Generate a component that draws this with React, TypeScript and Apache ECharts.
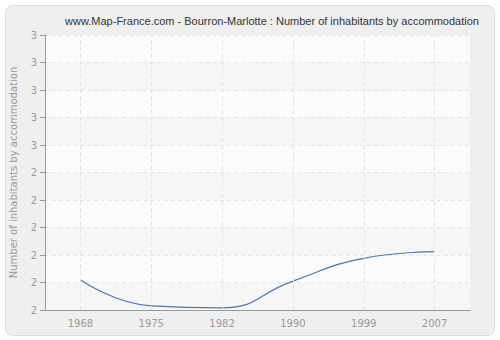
import React, { useEffect, useRef } from "react";
import * as echarts from "echarts";

const titleText = "www.Map-France.com - Bourron-Marlotte : Number of inhabitants by accommodation";
const yAxisName = "Number of inhabitants by accommodation";
const years = ["1968", "1975", "1982", "1990", "1999", "2007"];
const values = [2.11, 2.015, 2.008, 2.105, 2.188, 2.212];
const yTickLabels = ["2", "2", "2", "2", "2", "2", "3", "3", "3", "3", "3"];
const yMin = 2;
const yMax = 3;
const yStep = 0.1;

export default function App() {
  const ref = useRef<HTMLDivElement>(null);
  useEffect(() => {
    document.body.style.margin = "0";
    const chart = echarts.init(ref.current!, null, { renderer: "svg" });
    chart.setOption({
      animation: false,
      backgroundColor: "#ffffff",
      graphic: [
        {
          type: "rect",
          z: -10,
          silent: true,
          shape: { x: 5.5, y: 5.5, width: 489, height: 330, r: 7 },
          style: { fill: "#efefef", stroke: "#dddddd", lineWidth: 1 },
        },
      ],
      title: {
        text: titleText,
        left: 267,
        top: 10,
        textAlign: "center",
        textStyle: { fontFamily: "Liberation Sans", fontSize: 11, fontWeight: "normal", color: "#333333" },
      },
      grid: { left: 40, right: 30, top: 35, bottom: 30, show: true, backgroundColor: "#fafafa", borderWidth: 0 },
      xAxis: {
        type: "category",
        data: years,
        boundaryGap: true,
        axisLine: { lineStyle: { color: "#999999" } },
        axisTick: { alignWithLabel: true, length: 5, lineStyle: { color: "#999999" } },
        axisLabel: { color: "#999999", fontFamily: "DejaVu Sans", fontSize: 10, margin: 8 },
        splitLine: { show: false },
      },
      yAxis: {
        type: "value",
        min: yMin,
        max: yMax,
        interval: yStep,
        name: yAxisName,
        nameLocation: "middle",
        nameGap: 27,
        nameTextStyle: { color: "#999999", fontFamily: "DejaVu Sans", fontSize: 10 },
        axisLine: { show: true, lineStyle: { color: "#999999" } },
        axisTick: { show: true, length: 5, lineStyle: { color: "#999999" } },
        axisLabel: {
          color: "#999999",
          fontFamily: "DejaVu Sans",
          fontSize: 10,
          margin: 8,
          formatter: (v: number) => yTickLabels[Math.round((v - yMin) / yStep)] ?? "",
        },
        splitLine: { show: true, lineStyle: { color: "#e6e6e6", type: [4, 3] } },
        splitArea: { show: true, areaStyle: { color: ["#f6f6f6", "#fbfbfb"] } },
      },
      series: [
        {
          type: "line",
          data: values,
          smooth: 0.5,
          symbol: "none",
          clip: true,
          lineStyle: { color: "#4a78ad", width: 1.2 },
          markLine: {
            silent: true,
            symbol: "none",
            label: { show: false },
            lineStyle: { color: "#e3e3e3", type: [4, 3], width: 1 },
            data: years.map((y) => ({ xAxis: y })),
          },
        },
      ],
    });
    return () => chart.dispose();
  }, []);
  return <div ref={ref} style={{ width: 500, height: 340, position: "absolute", left: 0, top: 0 }} />;
}
